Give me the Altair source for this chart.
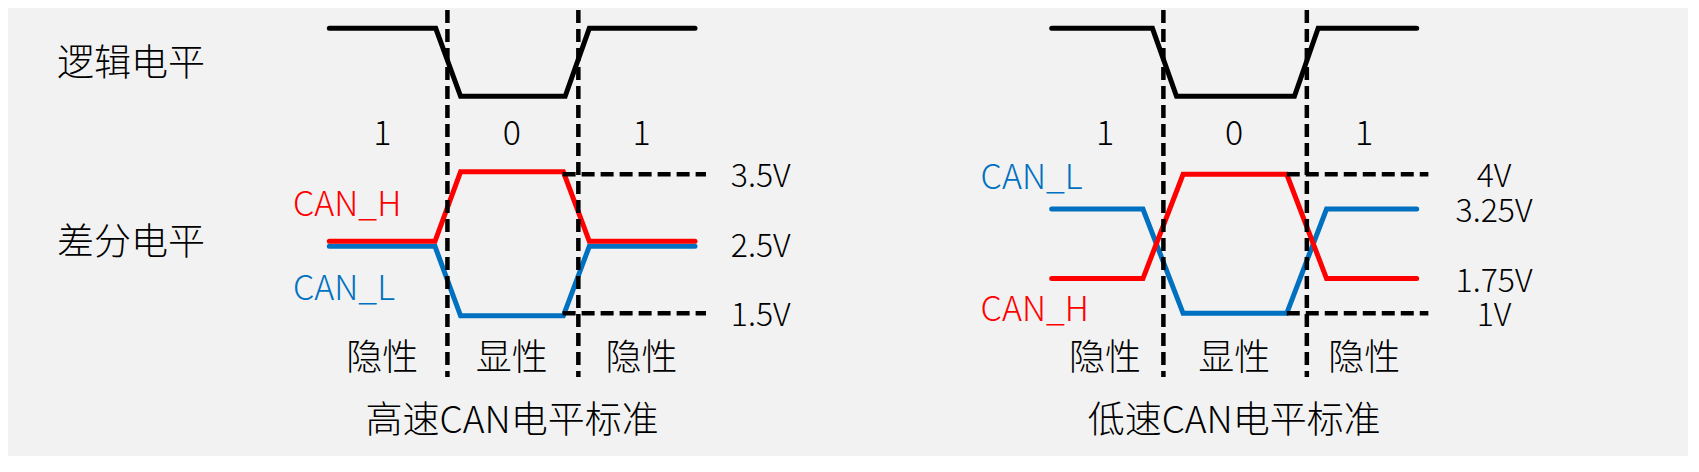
import altair as alt
import pandas as pd

# ---------------- data ----------------
BITS = ["1", "0", "1"]
STATES = ["隐性", "显性", "隐性"]

# High-speed CAN (left panel); time runs 0..100 over the drawn waveform
HS_LOGIC_T = [0, 29.1, 35.9, 64.5, 71.1, 100]
HS_LOGIC_LEVEL = [1, 1, 0, 0, 1, 1]
HS_BUS_T = [0, 28.9, 35.9, 64.0, 71.1, 100]
HS_CANH_V = [2.5, 2.5, 3.5, 3.5, 2.5, 2.5]
HS_CANL_V = [2.5, 2.5, 1.5, 1.5, 2.5, 2.5]
HS_BOUNDARY_T = [32.3, 68.1]
HS_BIT_T = [14.5, 49.9, 85.4]
HS_REF_V = [3.5, 1.5]
HS_REF_T0 = [63.8, 63.8]
HS_REF_T1 = [103.0, 103.0]
HS_VOLT_LABELS = ["3.5V", "2.5V", "1.5V"]
HS_VOLT_VALUES = [3.5, 2.5, 1.5]
HS_TITLE = "高速CAN电平标准"

# Low-speed CAN (right panel)
LS_LOGIC_T = [0, 27.6, 34.2, 66.5, 73.0, 100]
LS_LOGIC_LEVEL = [1, 1, 0, 0, 1, 1]
LS_BUS_T = [0, 25.0, 36.0, 64.4, 75.3, 100]
LS_CANH_V = [1.75, 1.75, 4.0, 4.0, 1.75, 1.75]
LS_CANL_V = [3.25, 3.25, 1.0, 1.0, 3.25, 3.25]
LS_BOUNDARY_T = [30.6, 69.9]
LS_BIT_T = [14.6, 50.0, 85.6]
LS_REF_V = [4.0, 1.0]
LS_REF_T0 = [64.4, 64.4]
LS_REF_T1 = [103.2, 103.2]
LS_VOLT_LABELS = ["4V", "3.25V", "1.75V", "1V"]
LS_VOLT_VALUES = [4.0, 3.25, 1.75, 1.0]
LS_TITLE = "低速CAN电平标准"

ROW_LABELS = ["逻辑电平", "差分电平"]

# ---------------- styling ----------------
FONT = "Noto Sans CJK SC"
FW = 300
BG = "#f2f2f2"
RED = "#ff0000"
BLUE = "#0070c0"
BLACK = "#000000"
LW = 5
DASH = [13, 6]
DY = 3

W, H = 1680, 448


def xscale(rng):
    return alt.Scale(domain=[0, 100], range=rng, nice=False, zero=False)


def yscale(dom, rng):
    return alt.Scale(domain=dom, range=rng, nice=False, zero=False)


LOGIC_RANGE = [88.3, 20.3]
VOLT_RANGE = [305.3, 166.3]


def txt(size, color=BLACK, align="center"):
    return dict(font=FONT, fontSize=size, fontWeight=FW, color=color,
                baseline="middle", align=align, dy=DY)


def panel(cfg):
    xs = xscale(cfg["xrange"])
    ys_logic = yscale([0, 1], LOGIC_RANGE)
    ys_volt = yscale(cfg["vdom"], VOLT_RANGE)
    layers = []

    logic = pd.DataFrame({"t": cfg["logic_t"], "level": cfg["logic_level"]})
    layers.append(
        alt.Chart(logic).mark_line(color=BLACK, strokeWidth=LW, strokeCap="round")
        .encode(x=alt.X("t:Q", scale=xs, axis=None),
                y=alt.Y("level:Q", scale=ys_logic, axis=None))
    )

    for vals, color, off in cfg["bus"]:
        df = pd.DataFrame({"t": cfg["bus_t"], "v": vals})
        layers.append(
            alt.Chart(df).mark_line(color=color, strokeWidth=LW, strokeCap="round", yOffset=off)
            .encode(x=alt.X("t:Q", scale=xs, axis=None),
                    y=alt.Y("v:Q", scale=ys_volt, axis=None))
        )

    refs = pd.DataFrame({"t0": cfg["ref_t0"], "t1": cfg["ref_t1"], "v": cfg["ref_v"]})
    layers.append(
        alt.Chart(refs).mark_rule(color=BLACK, strokeWidth=4.5, strokeDash=DASH)
        .encode(x=alt.X("t0:Q", scale=xs, axis=None), x2="t1:Q",
                y=alt.Y("v:Q", scale=ys_volt, axis=None))
    )

    bnd = pd.DataFrame({"t": cfg["boundary_t"]})
    layers.append(
        alt.Chart(bnd).mark_rule(color=BLACK, strokeWidth=4.5, strokeDash=DASH)
        .encode(x=alt.X("t:Q", scale=xs, axis=None), y=alt.value(2), y2=alt.value(369))
    )

    bits = pd.DataFrame({"t": cfg["bit_t"], "bit": BITS, "state": STATES})
    layers.append(
        alt.Chart(bits).mark_text(**txt(34))
        .encode(x=alt.X("t:Q", scale=xs, axis=None), y=alt.value(124), text="bit:N")
    )
    layers.append(
        alt.Chart(bits).mark_text(**txt(36))
        .encode(x=alt.X("t:Q", scale=xs, axis=None), y=alt.value(348), text="state:N")
    )

    volts = pd.DataFrame({"v": cfg["volt_values"], "label": cfg["volt_labels"]})
    layers.append(
        alt.Chart(volts).mark_text(**txt(32))
        .encode(x=alt.value(cfg["volt_x"]), y=alt.Y("v:Q", scale=ys_volt, axis=None), text="label:N")
    )

    title = pd.DataFrame({"t": [50], "label": [cfg["title"]]})
    layers.append(
        alt.Chart(title).mark_text(**txt(37))
        .encode(x=alt.X("t:Q", scale=xs, axis=None), y=alt.value(411), text="label:N")
    )

    for text, color, px, py in cfg["names"]:
        layers.append(
            alt.Chart(pd.DataFrame({"label": [text]}))
            .mark_text(**txt(34, color=color, align="left"))
            .encode(x=alt.value(px), y=alt.value(py), text="label:N")
        )
    return layers


left = dict(
    xrange=[321.3, 687.0], vdom=[1.5, 3.5],
    logic_t=HS_LOGIC_T, logic_level=HS_LOGIC_LEVEL,
    bus_t=HS_BUS_T, bus=[(HS_CANL_V, BLUE, 2.5), (HS_CANH_V, RED, -2.5)],
    ref_t0=HS_REF_T0, ref_t1=HS_REF_T1, ref_v=HS_REF_V,
    boundary_t=HS_BOUNDARY_T, bit_t=HS_BIT_T,
    volt_values=HS_VOLT_VALUES, volt_labels=HS_VOLT_LABELS, volt_x=752.7,
    title=HS_TITLE,
    names=[("CAN_H", RED, 285, 195), ("CAN_L", BLUE, 285, 279)],
)
right = dict(
    xrange=[1043.7, 1408.7], vdom=[1.0, 4.0],
    logic_t=LS_LOGIC_T, logic_level=LS_LOGIC_LEVEL,
    bus_t=LS_BUS_T, bus=[(LS_CANL_V, BLUE, 0), (LS_CANH_V, RED, 0)],
    ref_t0=LS_REF_T0, ref_t1=LS_REF_T1, ref_v=LS_REF_V,
    boundary_t=LS_BOUNDARY_T, bit_t=LS_BIT_T,
    volt_values=LS_VOLT_VALUES, volt_labels=LS_VOLT_LABELS, volt_x=1486,
    title=LS_TITLE,
    names=[("CAN_L", BLUE, 972.6, 167.5), ("CAN_H", RED, 972.6, 299.7)],
)

row_df = pd.DataFrame({"label": ROW_LABELS, "py": [53.7, 232.7]})
row_layer = (
    alt.Chart(row_df).mark_text(**txt(37, align="left"))
    .encode(x=alt.value(49), y=alt.Y("py:Q", scale=alt.Scale(domain=[0, H], range=[0, H], nice=False, zero=False), axis=None),
            text="label:N")
)

layers = panel(left) + panel(right) + [row_layer]

chart = (
    alt.layer(*layers)
    .resolve_scale(x="independent", y="independent")
    .properties(width=W, height=H, background=BG, padding=0,
                autosize=alt.AutoSizeParams(type="none"))
    .configure_view(stroke=None)
)

chart.save("out.html", embed_options={"renderer": "svg", "actions": False})
